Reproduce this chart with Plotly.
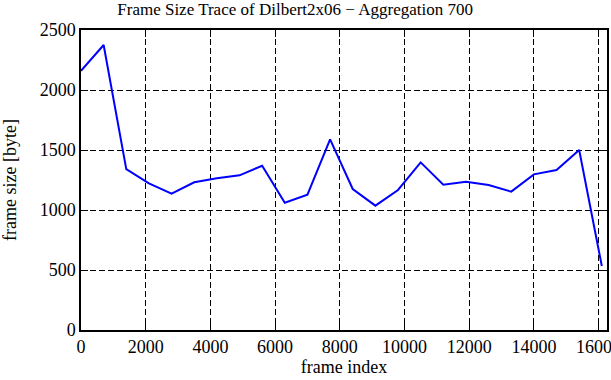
import plotly.graph_objects as go

frame_index = [0, 700, 1400, 2100, 2800, 3500, 4200, 4900, 5600, 6300, 7000, 7700,
               8400, 9100, 9800, 10500, 11200, 11900, 12600, 13300, 14000, 14700, 15400, 16100]
frame_size = [2160, 2375, 1340, 1222, 1136, 1231, 1264, 1289, 1369, 1061, 1128, 1589,
              1175, 1036, 1167, 1397, 1211, 1236, 1208, 1153, 1297, 1333, 1500, 533]
x_ticks = [0, 2000, 4000, 6000, 8000, 10000, 12000, 14000, 16000]
x_tick_labels = ["0", "2000", "4000", "6000", "8000", "10000", "12000", "14000", "16000"]
y_ticks = [0, 500, 1000, 1500, 2000, 2500]
y_tick_labels = ["0", "500", "1000", "1500", "2000", "2500"]

font = "Liberation Serif"

fig = go.Figure()
fig.add_trace(go.Scatter(x=frame_index, y=frame_size, mode="lines",
                         line=dict(color="#0000ff", width=2), showlegend=False))

axis_common = dict(
    showline=True, linecolor="black", linewidth=1.5, mirror="allticks",
    ticks="inside", ticklen=7, tickwidth=1, tickcolor="black",
    showgrid=True, gridcolor="black", gridwidth=1, griddash="6px,3px",
    zeroline=False, automargin=False, ticklabeloverflow="allow",
    tickfont=dict(family=font, size=18, color="black"),
)

fig.update_layout(
    width=611, height=380,
    margin=dict(l=81, r=4, t=30, b=50),
    paper_bgcolor="white", plot_bgcolor="white",
    title=dict(text="Frame Size Trace of Dilbert2x06 \u2212 Aggregation 700",
               font=dict(family=font, size=17, color="black"),
               x=0.483, xanchor="center", xref="container", y=0.975, yanchor="middle"),
    xaxis=dict(range=[0, 16260], tickvals=x_ticks, ticktext=x_tick_labels,
               title=dict(text="frame index", font=dict(family=font, size=18, color="black"), standoff=2),
               **axis_common),
    yaxis=dict(range=[0, 2500], tickvals=y_ticks, ticktext=y_tick_labels,
               title=dict(text="frame size [byte]", font=dict(family=font, size=18, color="black"), standoff=19),
               **axis_common),
)

fig.write_html("out.html", config={"displayModeBar": False},
               post_script="document.body.style.margin='0';document.body.style.overflow='hidden';")
